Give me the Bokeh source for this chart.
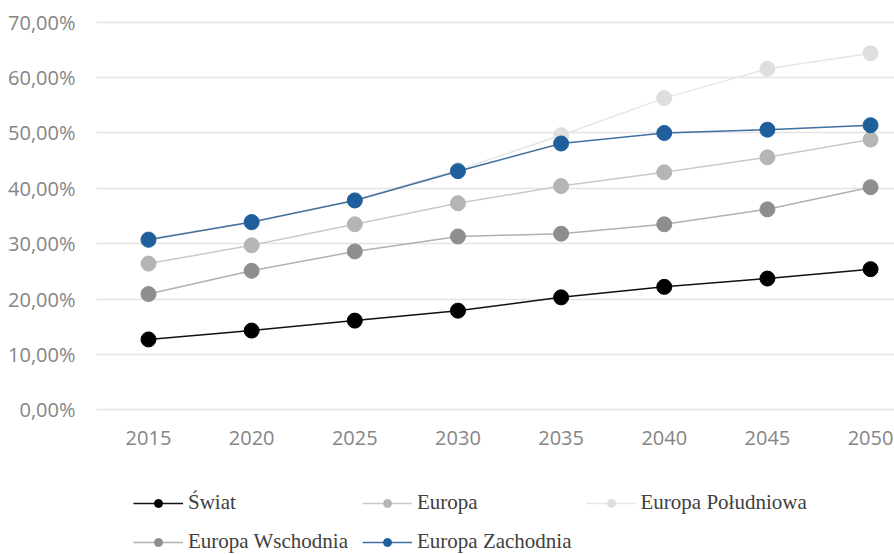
from bokeh.plotting import figure
from bokeh.layouts import column
from bokeh.models import Legend, LegendItem, FixedTicker, Range1d
from bokeh.embed import file_html
from bokeh.resources import INLINE

# Share of population (percent) by year and region
years = [2015, 2020, 2025, 2030, 2035, 2040, 2045, 2050]
swiat = [12.7, 14.3, 16.1, 17.9, 20.3, 22.2, 23.7, 25.4]
europa = [26.4, 29.7, 33.5, 37.3, 40.4, 42.9, 45.6, 48.8]
europa_poludniowa = [30.9, 33.8, 37.9, 43.3, 49.6, 56.3, 61.6, 64.4]
europa_wschodnia = [20.9, 25.1, 28.6, 31.3, 31.8, 33.5, 36.2, 40.2]
europa_zachodnia = [30.7, 33.9, 37.8, 43.1, 48.1, 50.0, 50.6, 51.4]

y_ticks = [0, 10, 20, 30, 40, 50, 60, 70]
y_tick_labels = ["0,00%", "10,00%", "20,00%", "30,00%", "40,00%", "50,00%", "60,00%", "70,00%"]

series = [
    ("Świat", swiat, "#111111", "#000000"),
    ("Europa", europa, "#c9c9c9", "#b5b5b5"),
    ("Europa Południowa", europa_poludniowa, "#e6e6e6", "#dedede"),
    ("Europa Wschodnia", europa_wschodnia, "#b0b0b0", "#8e8e8e"),
    ("Europa Zachodnia", europa_zachodnia, "#3f6f9e", "#1f5f9c"),
]

p = figure(width=894, height=452, output_backend="svg", toolbar_location=None,
           x_range=Range1d(2012.48, 2051.16), y_range=Range1d(-0.5, 70.5),
           min_border_left=96, min_border_right=0, min_border_top=19,
           min_border_bottom=40)
p.outline_line_color = None
p.background_fill_color = "white"
p.border_fill_color = "white"

# axes
p.xaxis.ticker = FixedTicker(ticks=years)
p.xaxis.axis_line_color = None
p.xaxis.major_tick_line_color = None
p.xaxis.minor_tick_line_color = None
p.xaxis.major_label_standoff = 12
p.xaxis.major_label_text_font = "Open Sans"
p.xaxis.major_label_text_font_size = "20px"
p.xaxis.major_label_text_color = "#858585"

p.yaxis.ticker = FixedTicker(ticks=y_ticks)
p.yaxis.major_label_overrides = {t: s for t, s in zip(y_ticks, y_tick_labels)}
p.yaxis.axis_line_color = None
p.yaxis.major_tick_line_color = None
p.yaxis.minor_tick_line_color = None
p.yaxis.major_label_standoff = 15
p.yaxis.major_label_text_font = "Open Sans"
p.yaxis.major_label_text_font_size = "20px"
p.yaxis.major_label_text_color = "#858585"

p.xgrid.grid_line_color = None
p.ygrid.ticker = FixedTicker(ticks=y_ticks)
p.ygrid.grid_line_color = "#e4e4e4"
p.ygrid.grid_line_width = 1.6

for name, vals, line_col, marker_col in series:
    p.line(years, vals, line_color=line_col, line_width=1.5)
    p.scatter(years, vals, size=15, fill_color=marker_col, line_color=marker_col)

# legend strip below the chart
leg_fig = figure(width=894, height=102, output_backend="svg", toolbar_location=None,
                 x_range=Range1d(0, 1), y_range=Range1d(0, 1),
                 min_border_left=0, min_border_right=0, min_border_top=0,
                 min_border_bottom=0)
leg_fig.axis.visible = False
leg_fig.grid.grid_line_color = None
leg_fig.outline_line_color = None

entries = {}
for name, vals, line_col, marker_col in series:
    lgl = leg_fig.line(years, vals, line_color=line_col, line_width=1.5)
    lgs = leg_fig.scatter(years, vals, size=9, fill_color=marker_col, line_color=marker_col)
    entries[name] = LegendItem(label=name, renderers=[lgl, lgs])

# the legend grid fills column by column; this order reads row by row
legend_order = ["Świat", "Europa Wschodnia", "Europa", "Europa Zachodnia", "Europa Południowa"]
items = [entries[n] for n in legend_order]

legend = Legend(items=items, ncols=3, location=(37, 0),
                glyph_width=50, glyph_height=20, label_height=20,
                label_standoff=5, spacing=14, padding=0, margin=0,
                border_line_color=None, background_fill_alpha=0,
                label_text_font="Liberation Serif", label_text_font_size="21px",
                label_text_color="#404040")
leg_fig.add_layout(legend, "center")

layout = column(p, leg_fig, spacing=0)
open("out.html", "w").write(file_html(layout, INLINE))
